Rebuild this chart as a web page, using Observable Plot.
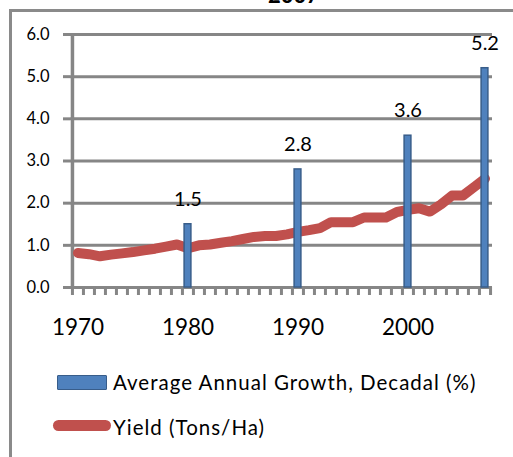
<!DOCTYPE html>
<html><head><meta charset="utf-8">
<script src="https://cdn.jsdelivr.net/npm/d3@7"></script>
<script src="https://cdn.jsdelivr.net/npm/@observablehq/plot@0.6"></script>
<style>
body{margin:0;background:#fff;}
#wrap{position:relative;width:513px;height:457px;overflow:hidden;background:#fff;font-family:Lato,sans-serif;color:#000;}
#border{position:absolute;left:9px;top:9px;width:520px;height:460px;border-left:3px solid #8a8a8a;border-top:3px solid #8a8a8a;}
#title{position:absolute;left:293.5px;top:-16.5px;transform:translateX(-50%);font-weight:bold;font-size:22px;line-height:22px;white-space:nowrap;}
#chart{position:absolute;left:0;top:0;}
.legtext{position:absolute;left:113px;font-size:20.5px;line-height:20px;letter-spacing:1px;white-space:nowrap;}
#sw1{position:absolute;left:57px;top:375px;width:48px;height:13px;background:#4F81BD;border:1.5px solid #385D8A;border-radius:1px;}
#sw2{position:absolute;left:53px;top:420px;width:58px;height:11px;background:#C0504D;border-radius:5.5px;}
</style></head><body>
<div id="wrap">
  <div id="border"></div>
  <div id="title">2007</div>
  <div id="chart"></div>
  <div id="sw1"></div>
  <div class="legtext" id="lt1" style="top:372px">Average Annual Growth, Decadal (%)</div>
  <div id="sw2"></div>
  <div class="legtext" id="lt2" style="top:417px">Yield (Tons/Ha)</div>
</div>
<script>
const years = [1970,1971,1972,1973,1974,1975,1976,1977,1978,1979,
  1980,1981,1982,1983,1984,1985,1986,1987,1988,1989,
  1990,1991,1992,1993,1994,1995,1996,1997,1998,1999,
  2000,2001,2002,2003,2004,2005,2006,2007];
const yieldValues = [0.82,0.79,0.74,0.78,0.81,0.84,0.88,0.92,0.97,1.02,
  0.93,1.00,1.02,1.06,1.10,1.15,1.20,1.22,1.22,1.26,
  1.32,1.36,1.41,1.55,1.55,1.55,1.66,1.66,1.66,1.79,
  1.84,1.88,1.80,1.97,2.18,2.18,2.38,2.58];
const growthYears = [1980,1990,2000,2007];
const growthValues = [1.5,2.8,3.6,5.2];
const yTicks = [0,1,2,3,4,5,6];
const xLabelTicks = [1970,1980,1990,2000];

const yieldData = years.map((year,i)=>({year, value: yieldValues[i]}));
const growthData = growthYears.map((year,i)=>({year, value: growthValues[i]}));

const W = 513, ML = 70, MR = 21;
const bw = (W - ML - MR) / years.length;
const gray = "#868686";

const chart = Plot.plot({
  width: W, height: 345,
  marginLeft: ML, marginRight: MR, marginTop: 34, marginBottom: 58,
  style: {fontFamily: "Lato, sans-serif", color: "#000", background: "transparent"},
  x: {type: "band", domain: years, padding: 0, label: null},
  y: {domain: [0, 6], label: null},
  marks: [
    Plot.gridY(yTicks, {stroke: gray, strokeOpacity: 1, strokeWidth: 3}),
    Plot.axisY({ticks: yTicks, tickFormat: d3.format(".1f"), tickSize: 7, tickPadding: 14, label: null,
      stroke: gray, strokeWidth: 3, strokeOpacity: 1, fontSize: 16.5, fill: "#000"}),
    Plot.ruleX([years[0]], {dx: -bw/2, stroke: gray, strokeWidth: 3.5}),
    Plot.ruleY([0], {stroke: gray, strokeWidth: 3}),
    Plot.axisX({ticks: years, tickSize: 8, tickFormat: () => "", dx: -bw/2, label: null,
      stroke: gray, strokeWidth: 3, strokeOpacity: 1}),
    Plot.axisX({ticks: [years[years.length-1]], tickSize: 8, tickFormat: () => "", dx: bw/2, label: null,
      stroke: gray, strokeWidth: 3, strokeOpacity: 1}),
    Plot.axisX({ticks: xLabelTicks, tickSize: 0, tickPadding: 32, fontSize: 22.5, fill: "#000", label: null,
      tickFormat: d => String(d)}),
    Plot.lineY(yieldData, {x: "year", y: "value", stroke: "#C0504D", strokeWidth: 10,
      strokeLinejoin: "round", strokeLinecap: "round"}),
    Plot.barY(growthData, {x: "year", y: "value", fill: "#4F81BD", stroke: "#385D8A",
      strokeWidth: 1.5, insetLeft: 2.1, insetRight: 2.1}),
    Plot.text(growthData, {x: "year", y: "value", text: d => d.value.toFixed(1),
      dy: -25, fontSize: 20, fill: "#000"})
  ]
});
document.getElementById("chart").appendChild(chart);
</script>
</body></html>
